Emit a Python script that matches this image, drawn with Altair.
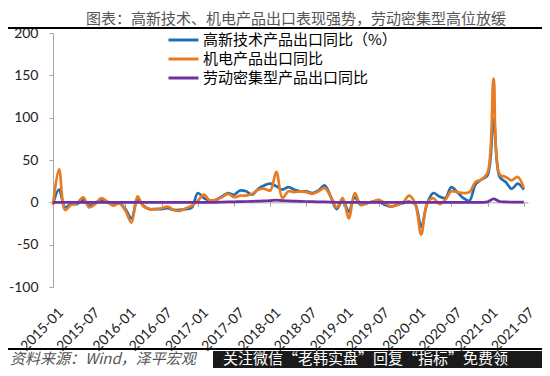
import json
import pandas as pd
import altair as alt

# ---------------- data ----------------
months = [f"{y}-{m:02d}" for y in range(2015, 2022) for m in range(1, 13)][:79]

tick_labels = ["2015-01", "2015-07", "2016-01", "2016-07", "2017-01", "2017-07",
               "2018-01", "2018-07", "2019-01", "2019-07", "2020-01", "2020-07",
               "2021-01", "2021-07"]

series_names = ["高新技术产品出口同比（%）", "机电产品出口同比", "劳动密集型产品出口同比"]
series_colors = ["#1F6EB4", "#E97C22", "#7030A0"]

hitech = [-2, 15, -6, -2, -2, 3, -4, -1, 3, 0, -3, -1,
          -8, -19, 3, -4, -8, -8, -8, -7, -9, -9, -8, -6,
          11, 5, 2, 3, 7, 11, 9, 14, 13, 9, 16, 20,
          22, 19, 15, 18, 15, 13, 13, 11, 14, 20, 7, -8,
          3, -11, 6, -3, -1, 1, 1, -3, -5, -3, -1, 1,
          -2, -29, -1, 11, 7, 5, 18, 12, 5, 2, 21, 27,
          32, 98, 30, 24, 16, 22, 15]

mech = [-3, 39, -9, -3, -1, 6, -6, -2, 5, 1, -4, -1,
        -10, -24, 7, -5, -8, -8, -7, -5, -9, -10, -7, -4,
        2, 9, 2, 3, 6, 10, 6, 8, 8, 10, 15, 16,
        14, 36, 5, 13, 12, 13, 12, 10, 13, 17, 7, -6,
        5, -19, 11, -3, -1, 1, 3, -1, -5, -3, 0, 8,
        -1, -38, -1, 5, -2, 3, 13, 12, 11, 12, 24, 27,
        35, 146, 33, 30, 26, 30, 17]

labor = [0, 0, 0, 0, 0, 0, 0, 0, 0, 0, 0, 0,
         0, 0, 0, 0, 0, 0, 0, 0, 0, 0, 0, 0,
         0, 0, 0, 0, 0.3, 0.5, 0.6, 0.8, 1, 1.2, 1.5, 1.8,
         2, 2.5, 2, 1.8, 1.5, 1.2, 1, 0.8, 0.6, 0.5, 0.3, 0,
         0, 0, 0, 0, 0, 0, 0, 0, 0, 0, 0, 0,
         0, 0, 0, 0, 0, 0, 0, 0, 0, 0, 0, 0,
         0.5, 4, 1, 0.5, 0.3, 0.3, 0.2]

title_text = "图表：高新技术、机电产品出口表现强势，劳动密集型高位放缓"
source_text = "资料来源：Wind，泽平宏观"
banner_text = "关注微信“老韩实盘”回复“指标”免费领"

rows = []
for name, vals in zip(series_names, [hitech, mech, labor]):
    for i, v in enumerate(vals):
        rows.append({"idx": i, "month": months[i], "series": name, "value": v})
df = pd.DataFrame(rows)

# ---------------- chart ----------------
W, H = 475, 254
ZERO_FROM_BOTTOM = H * 100 / 300

label_expr = f"{json.dumps(tick_labels)}[round(datum.value / 6)]"

x_enc = alt.X(
    "idx:Q",
    scale=alt.Scale(domain=[0, 78.7], nice=False, zero=False),
    axis=alt.Axis(
        values=list(range(0, 79, 6)), labelExpr=label_expr, title=None,
        orient="bottom", offset=-ZERO_FROM_BOTTOM,
        domainColor="#a6a6a6", tickColor="#a6a6a6", tickSize=4,
        labelAngle=-45, labelAlign="right", labelBaseline="top",
        labelPadding=99, labelOffset=3, labelOverlap=False, labelFlush=False,
        labelFont="Lato", labelFontSize=14, labelColor="#222222", grid=False,
    ),
)
y_enc = alt.Y(
    "value:Q",
    scale=alt.Scale(domain=[-100, 200], nice=False),
    axis=alt.Axis(
        values=[-100, -50, 0, 50, 100, 150, 200], labelExpr="'' + datum.value",
        title=None, domainColor="#a6a6a6", tickColor="#a6a6a6", tickSize=4,
        labelPadding=11, labelFont="Lato", labelFontSize=14,
        labelColor="#222222", grid=False,
    ),
)
color_enc = alt.Color(
    "series:N",
    scale=alt.Scale(domain=series_names, range=series_colors),
    legend=alt.Legend(
        title=None, orient="none", legendX=129, legendY=-2,
        symbolType="M-3,0H1", symbolSize=225, symbolStrokeWidth=3,
        labelFont="Noto Sans CJK SC", labelFontSize=15, labelColor="#000000",
        labelLimit=400, rowPadding=2, labelOffset=3, padding=0,
    ),
)

lines = [
    alt.Chart(df).transform_filter(alt.datum.series == name)
    .mark_line(interpolate="catmull-rom", strokeWidth=2.7)
    .encode(x=x_enc, y=y_enc, color=color_enc)
    for name in series_names
]

one = pd.DataFrame({"t": [title_text]})
title_layer = alt.Chart(one).mark_text(
    font="Noto Sans CJK SC", fontSize=15, color="#555555", align="center", baseline="middle"
).encode(x=alt.value(243), y=alt.value(-14), text="t:N")

top_rule = alt.Chart(pd.DataFrame({"a": [1]})).mark_rule(color="#000000", strokeWidth=2.2).encode(
    x=alt.value(-45), x2=alt.value(489), y=alt.value(-5))

bottom_rule = alt.Chart(pd.DataFrame({"a": [1]})).mark_rule(color="#000000", strokeWidth=2).encode(
    x=alt.value(-45), x2=alt.value(489), y=alt.value(316))

banner_box = alt.Chart(pd.DataFrame({"a": [1]})).mark_rect(color="#1a1a1a").encode(
    x=alt.value(160), x2=alt.value(489), y=alt.value(318), y2=alt.value(335))

banner_layer = alt.Chart(pd.DataFrame({"t": [banner_text]})).mark_text(
    font="Noto Sans CJK SC", fontSize=15, color="#ffffff", align="left", baseline="middle"
).encode(x=alt.value(170), y=alt.value(326), text="t:N")

source_layer = alt.Chart(pd.DataFrame({"t": [source_text]})).mark_text(
    font="Noto Sans CJK SC", fontSize=15, color="#555555", fontStyle="italic",
    align="left", baseline="middle"
).encode(x=alt.value(-43), y=alt.value(326), text="t:N")

chart = alt.layer(
    *lines, title_layer, top_rule, bottom_rule, banner_box, banner_layer, source_layer
).properties(
    width=W, height=H,
    autosize=alt.AutoSizeParams(type="none"),
    padding={"left": 45, "top": 25, "right": 14, "bottom": 81},
).configure_view(stroke=None)

chart.save("out.html", embed_options={"renderer": "svg", "actions": False})
